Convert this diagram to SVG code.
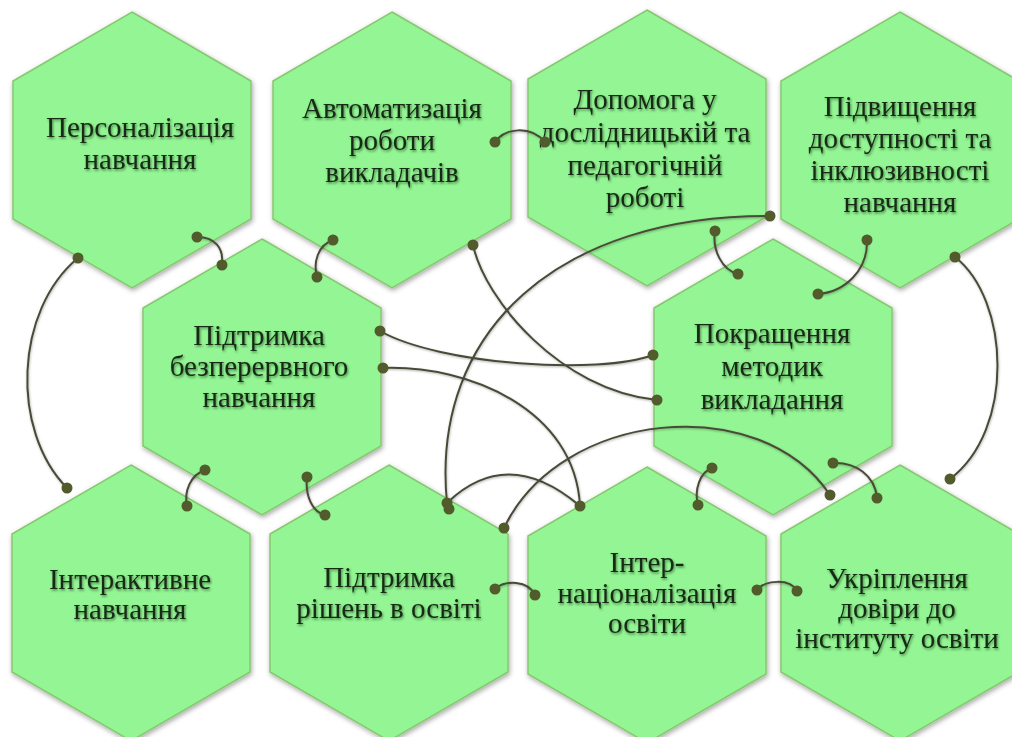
<svg xmlns="http://www.w3.org/2000/svg" width="1012" height="737" viewBox="0 0 1012 737">
<style>
.hex{fill:#93f593;stroke:#86c870;stroke-width:1.5;filter:url(#sh)}
.t{font-family:"Liberation Serif","Times New Roman",serif;font-size:29px;fill:#142b14;text-anchor:middle;filter:url(#tsh)}
.c{fill:none;stroke:#4a4a38;stroke-width:2;filter:url(#lsh)}
.d{fill:#525b2b}
</style>
<defs>
<filter id="sh" x="-20%" y="-20%" width="140%" height="140%"><feDropShadow dx="1" dy="2" stdDeviation="2.5" flood-color="#000" flood-opacity="0.35"/></filter>
<filter id="tsh" x="-10%" y="-30%" width="120%" height="160%"><feDropShadow dx="1" dy="1.5" stdDeviation="1.3" flood-color="#0a2a0a" flood-opacity="0.55"/></filter>
<filter id="lsh" x="-20%" y="-20%" width="140%" height="140%"><feDropShadow dx="0.5" dy="1" stdDeviation="0.8" flood-color="#000" flood-opacity="0.3"/></filter>
<polygon id="hx" points="0,-138 119,-69 119,69 0,138 -119,69 -119,-69"/>
</defs>
<rect width="1012" height="737" fill="#ffffff"/>

<g id="n1"><use href="#hx" class="hex" x="132" y="150"/>
<text class="t"><tspan x="140" y="137">Персоналізація</tspan><tspan x="140" y="169">навчання</tspan></text></g>
<g id="n2"><use href="#hx" class="hex" x="392" y="150"/>
<text class="t"><tspan x="392" y="118">Автоматизація</tspan><tspan x="392" y="150">роботи</tspan><tspan x="392" y="182">викладачів</tspan></text></g>
<g id="n3"><use href="#hx" class="hex" x="647" y="148"/>
<text class="t"><tspan x="645" y="109">Допомога у</tspan><tspan x="645" y="142">дослідницькій та</tspan><tspan x="645" y="175">педагогічній</tspan><tspan x="645" y="207">роботі</tspan></text></g>
<g id="n4"><use href="#hx" class="hex" x="900" y="150"/>
<text class="t"><tspan x="900" y="116">Підвищення</tspan><tspan x="900" y="148">доступності та</tspan><tspan x="900" y="180">інклюзивності</tspan><tspan x="900" y="212">навчання</tspan></text></g>
<g id="n5"><use href="#hx" class="hex" x="262" y="377"/>
<text class="t"><tspan x="259" y="345">Підтримка</tspan><tspan x="259" y="376">безперервного</tspan><tspan x="259" y="407">навчання</tspan></text></g>
<g id="n6"><use href="#hx" class="hex" x="773" y="377"/>
<text class="t"><tspan x="772" y="343">Покращення</tspan><tspan x="772" y="376">методик</tspan><tspan x="772" y="409">викладання</tspan></text></g>
<g id="n7"><use href="#hx" class="hex" x="131" y="603"/>
<text class="t"><tspan x="130" y="589">Інтерактивне</tspan><tspan x="130" y="619">навчання</tspan></text></g>
<g id="n8"><use href="#hx" class="hex" x="389" y="603"/>
<text class="t"><tspan x="389" y="587">Підтримка</tspan><tspan x="389" y="618">рішень в освіті</tspan></text></g>
<g id="n9"><use href="#hx" class="hex" x="647" y="605"/>
<text class="t"><tspan x="647" y="572">Інтер-</tspan><tspan x="647" y="603">націоналізація</tspan><tspan x="647" y="633">освіти</tspan></text></g>
<g id="n10"><use href="#hx" class="hex" x="900" y="603"/>
<text class="t"><tspan x="897" y="588">Укріплення</tspan><tspan x="897" y="618">довіри до</tspan><tspan x="897" y="648">інституту освіти</tspan></text></g>

<g id="connectors">
<path class="c" d="M197,237 C215,237 224,248 222,265"/>
<path class="c" d="M78,258 C15,310 10,430 67,488"/>
<path class="c" d="M333,240 C318,245 313,262 317,277"/>
<path class="c" d="M495,142 C505,128 530,125 545,142"/>
<path class="c" d="M473,245 C485,300 560,390 657,400"/>
<path class="c" d="M447,503 C430,330 560,215 770,216"/>
<path class="c" d="M715,231 C712,250 722,270 738,274"/>
<path class="c" d="M867,240 C868,270 845,292 818,294"/>
<path class="c" d="M955,257 C1010,300 1015,430 950,479"/>
<path class="c" d="M380,331 C440,365 600,375 653,355"/>
<path class="c" d="M383,368 C470,365 575,410 580,506"/>
<path class="c" d="M205,470 C190,475 184,492 187,506"/>
<path class="c" d="M307,477 C305,495 312,512 325,515"/>
<path class="c" d="M448,502 Q508,445 580,506"/>
<path class="c" d="M504,528 C560,410 760,390 830,495"/>
<path class="c" d="M712,468 C700,472 694,490 698,505"/>
<path class="c" d="M833,463 C855,462 875,475 877,498"/>
<path class="c" d="M495,589 C505,580 528,580 535,595"/>
<path class="c" d="M757,590 C765,580 790,578 797,591"/>
<g class="d">
<circle cx="197" cy="237" r="5.5"/><circle cx="222" cy="265" r="5.5"/>
<circle cx="78" cy="258" r="5.5"/><circle cx="67" cy="488" r="5.5"/>
<circle cx="333" cy="240" r="5.5"/><circle cx="317" cy="277" r="5.5"/>
<circle cx="495" cy="142" r="5.5"/><circle cx="545" cy="142" r="5.5"/>
<circle cx="473" cy="245" r="5.5"/><circle cx="657" cy="400" r="5.5"/>
<circle cx="447" cy="503" r="5.5"/><circle cx="770" cy="216" r="5.5"/>
<circle cx="715" cy="231" r="5.5"/><circle cx="738" cy="274" r="5.5"/>
<circle cx="867" cy="240" r="5.5"/><circle cx="818" cy="294" r="5.5"/>
<circle cx="955" cy="257" r="5.5"/><circle cx="950" cy="479" r="5.5"/>
<circle cx="380" cy="331" r="5.5"/><circle cx="653" cy="355" r="5.5"/>
<circle cx="383" cy="368" r="5.5"/><circle cx="580" cy="506" r="5.5"/>
<circle cx="205" cy="470" r="5.5"/><circle cx="187" cy="506" r="5.5"/>
<circle cx="307" cy="477" r="5.5"/><circle cx="325" cy="515" r="5.5"/>
<circle cx="449" cy="509" r="5.5"/>
<circle cx="504" cy="528" r="5.5"/><circle cx="830" cy="495" r="5.5"/>
<circle cx="712" cy="468" r="5.5"/><circle cx="698" cy="505" r="5.5"/>
<circle cx="833" cy="463" r="5.5"/><circle cx="877" cy="498" r="5.5"/>
<circle cx="495" cy="589" r="5.5"/><circle cx="535" cy="595" r="5.5"/>
<circle cx="757" cy="590" r="5.5"/><circle cx="797" cy="591" r="5.5"/>
</g>
</g>
</svg>
